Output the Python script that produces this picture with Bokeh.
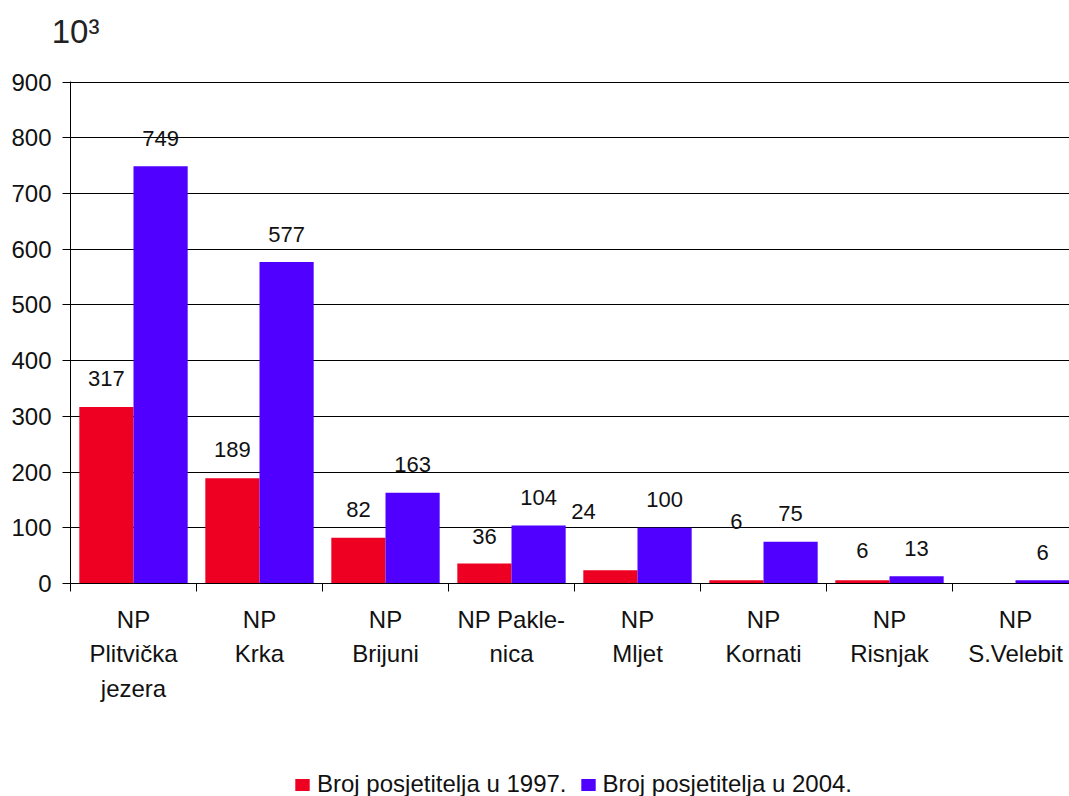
from bokeh.plotting import figure
from bokeh.layouts import column
from bokeh.models import (Range1d, LinearAxis, FixedTicker, Legend, LegendItem,
                          ColumnDataSource)
from bokeh.core.properties import value
from bokeh.embed import file_html
from bokeh.resources import INLINE

# ---- data ----
category_lines = [
    ["NP", "Plitvička", "jezera"],
    ["NP", "Krka"],
    ["NP", "Brijuni"],
    ["NP Pakle-", "nica"],
    ["NP", "Mljet"],
    ["NP", "Kornati"],
    ["NP", "Risnjak"],
    ["NP", "S.Velebit"],
]
visitors_1997 = [317, 189, 82, 36, 24, 6, 6, 0]
visitors_2004 = [749, 577, 163, 104, 100, 75, 13, 6]
series_names = ["Broj posjetitelja u 1997.", "Broj posjetitelja u 2004."]
y_ticks = [0, 100, 200, 300, 400, 500, 600, 700, 800, 900]
unit_label = "10³"

# ---- style ----
RED = "#EE0022"
BLUE = "#5000FF"
FONT = "Liberation Sans"
TXT = "#111111"
BAR_W = 0.43
red_dx = [0, 0, 0, 0, -27, 0, 0, 0]
red_dy = [-28, -29, -28, -27, -59, -59, -30, -28]
blue_dy = [-28] * 8

n = len(category_lines)
idx = list(range(n))

p = figure(frame_width=999, frame_height=502,
           x_range=Range1d(-0.5, -0.5 + 999 / 126), y_range=Range1d(0, 901),
           x_axis_type=None, output_backend="svg", toolbar_location=None,
           min_border_left=70, min_border_right=0, min_border_top=81,
           min_border_bottom=0)
p.outline_line_color = None

# unit label as an axis above the frame
top_ax = LinearAxis(ticker=FixedTicker(ticks=[-0.46], minor_ticks=[]),
                    major_label_overrides={-0.46: unit_label},
                    major_tick_line_color=None, major_tick_in=0, major_tick_out=0,
                    axis_line_color=None, major_label_standoff=32,
                    major_label_text_font=FONT, major_label_text_font_size="33px",
                    major_label_text_color="#222222")
p.add_layout(top_ax, "above")

yt = FixedTicker(ticks=y_ticks, minor_ticks=[])
p.yaxis.ticker = yt
p.ygrid.ticker = yt
p.yaxis.major_tick_out = 8
p.yaxis.major_tick_in = 0
p.yaxis.minor_tick_out = 0
p.yaxis.axis_line_color = "black"
p.yaxis.major_tick_line_color = "black"
p.yaxis.major_label_standoff = 11
p.yaxis.major_label_text_font = FONT
p.yaxis.major_label_text_font_size = "24px"
p.yaxis.major_label_text_color = TXT
p.ygrid.grid_line_color = "black"
p.ygrid.grid_line_width = 1

src_r = ColumnDataSource(dict(x=[i - BAR_W / 2 for i in idx], top=visitors_1997))
src_b = ColumnDataSource(dict(x=[i + BAR_W / 2 for i in idx], top=visitors_2004))
p.vbar(x="x", top="top", width=BAR_W, source=src_r, fill_color=RED, line_color=None)
p.vbar(x="x", top="top", width=BAR_W, source=src_b, fill_color=BLUE, line_color=None)

lab_r = dict(x=[], y=[], t=[], dx=[], dy=[])
for i, v in enumerate(visitors_1997):
    if v > 0:
        lab_r["x"].append(i - BAR_W / 2); lab_r["y"].append(v); lab_r["t"].append(str(v))
        lab_r["dx"].append(red_dx[i]); lab_r["dy"].append(red_dy[i])
lab_b = dict(x=[], y=[], t=[], dx=[], dy=[])
for i, v in enumerate(visitors_2004):
    if v > 0:
        lab_b["x"].append(i + BAR_W / 2); lab_b["y"].append(v); lab_b["t"].append(str(v))
        lab_b["dx"].append(0); lab_b["dy"].append(blue_dy[i])
for d in (lab_r, lab_b):
    p.text(x="x", y="y", text="t", x_offset="dx", y_offset="dy",
           source=ColumnDataSource(d), text_align="center", text_baseline="middle",
           text_font=value(FONT), text_font_size=value("22px"), text_color=TXT)

def label_axis(line_no, standoff, first=False):
    overrides = {i: (lines[line_no] if len(lines) > line_no else "")
                 for i, lines in enumerate(category_lines)}
    ax = LinearAxis(
        ticker=FixedTicker(ticks=idx, minor_ticks=[i - 0.5 for i in range(n + 1)] if first else []),
        major_label_overrides=overrides,
        major_tick_line_color=None, major_tick_in=0,
        major_tick_out=8 if first else 0,
        minor_tick_in=0, minor_tick_out=8 if first else 0,
        minor_tick_line_color="black" if first else None,
        axis_line_color="black" if first else None,
        major_label_standoff=standoff,
        major_label_text_font=FONT, major_label_text_font_size="24px",
        major_label_text_color=TXT)
    p.add_layout(ax, "below")

label_axis(0, 14, first=True)
label_axis(1, 4)
label_axis(2, 5)

# legend strip (its frame is aligned with the chart frame, x=70)
pl = figure(width=1069, height=94, x_range=Range1d(0, 1), y_range=Range1d(0, 1),
            x_axis_type=None, y_axis_type=None, output_backend="svg",
            toolbar_location=None, min_border=0)
pl.outline_line_color = None
pl.grid.visible = False
# legend swatches: one hidden point each, outside the strip's visible range
lr1 = pl.vbar(x=[5], top=[1], width=0.1, fill_color=RED, line_color=None)
lr2 = pl.vbar(x=[5], top=[1], width=0.1, fill_color=BLUE, line_color=None)
legend = Legend(items=[LegendItem(label=series_names[0], renderers=[lr1]),
                       LegendItem(label=series_names[1], renderers=[lr2])],
                orientation="horizontal", location=(223, 0), margin=0, padding=0,
                spacing=12, label_standoff=6, glyph_width=18, glyph_height=15,
                label_text_font=FONT, label_text_font_size="24px",
                label_text_color=TXT, border_line_color=None,
                background_fill_alpha=0)
pl.add_layout(legend, "center")

open("out.html", "w").write(file_html(column(p, pl, spacing=0), INLINE))
